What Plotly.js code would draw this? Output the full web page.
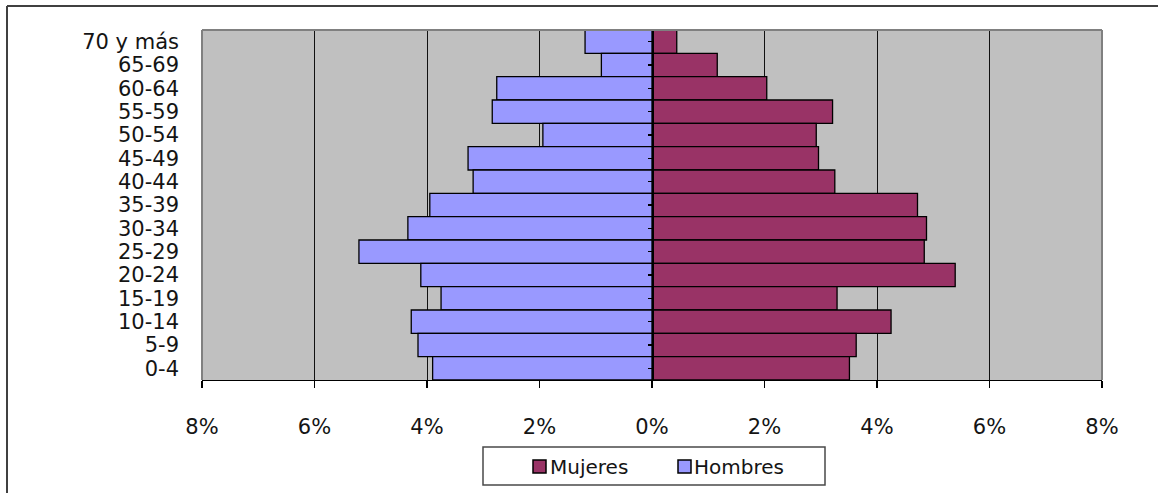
<!DOCTYPE html>
<html>
<head>
<meta charset="utf-8">
<script src="https://cdn.plot.ly/plotly-3.0.1.min.js"></script>
<style>html,body{margin:0;padding:0;background:#fff;}#chart{width:1158px;height:493px;}</style>
</head>
<body>
<div id="chart"></div>
<script>
// Age groups, top to bottom as shown
var ageGroups = ["70 y más","65-69","60-64","55-59","50-54","45-49","40-44","35-39","30-34","25-29","20-24","15-19","10-14","5-9","0-4"];
// Percent of population
var mujeres = [0.44,1.16,2.04,3.21,2.92,2.96,3.25,4.72,4.88,4.84,5.39,3.29,4.25,3.63,3.51];
var hombres = [1.19,0.90,2.76,2.84,1.94,3.27,3.18,3.95,4.34,5.21,4.11,3.75,4.28,4.16,3.90];
var tickValues = [-8,-6,-4,-2,0,2,4,6,8];
var tickLabels = ["8%","6%","4%","2%","0%","2%","4%","6%","8%"];
var seriesNames = ["Mujeres","Hombres"];
var seriesColors = ["#993366","#9999FF"];

var fontFam = "DejaVu Sans, Verdana, sans-serif";
var txtColor = "#141414";

var traces = [
  {type:"bar", orientation:"h", name:seriesNames[0], y:ageGroups, x:mujeres,
   xaxis:"x", yaxis:"y",
   marker:{color:seriesColors[0], line:{color:"#000000", width:1.3}},
   hoverinfo:"skip", showlegend:false},
  {type:"bar", orientation:"h", name:seriesNames[1], y:ageGroups,
   x:hombres.map(function(v){return -v;}),
   xaxis:"x", yaxis:"y2",
   marker:{color:seriesColors[1], line:{color:"#000000", width:1.3}},
   hoverinfo:"skip", showlegend:false}
];

var L = 202, T = 30, R = 56, B = 113, W = 1158, H = 493;
var pw = W - L - R, ph = H - T - B;
function px(x){ return (x - L) / pw; }
function py(y){ return (H - B - y) / ph; }

var shapes = [
  {type:"line", xref:"paper", yref:"paper", x0:0, x1:1, y0:1, y1:1, line:{color:"#808080", width:2}},
  {type:"line", xref:"paper", yref:"paper", x0:1, x1:1, y0:0, y1:1, line:{color:"#808080", width:2}},
  {type:"line", xref:"paper", yref:"paper", x0:0, x1:0, y0:0, y1:1, line:{color:"#808080", width:2}},
  {type:"line", xref:"paper", yref:"paper", x0:px(7), x1:px(1160), y0:py(6), y1:py(6), line:{color:"#404040", width:2}},
  {type:"line", xref:"paper", yref:"paper", x0:px(7), x1:px(7), y0:py(6), y1:py(495), line:{color:"#404040", width:2}},
  // legend box
  {type:"rect", xref:"paper", yref:"paper", x0:px(483), x1:px(825), y0:py(447), y1:py(485),
   fillcolor:"#ffffff", line:{color:"#4a4a4a", width:1.5}},
  // legend keys
  {type:"rect", xref:"paper", yref:"paper", x0:px(533), x1:px(546), y0:py(460), y1:py(473),
   fillcolor:seriesColors[0], line:{color:"#000000", width:1.5}},
  {type:"rect", xref:"paper", yref:"paper", x0:px(678), x1:px(691), y0:py(460), y1:py(473),
   fillcolor:seriesColors[1], line:{color:"#000000", width:1.5}}
];

var annotations = [
  {xref:"paper", yref:"paper", x:px(548), y:py(466.5), xanchor:"left", yanchor:"middle",
   text:seriesNames[0], showarrow:false, font:{family:fontFam, size:20, color:txtColor}},
  {xref:"paper", yref:"paper", x:px(692), y:py(466.5), xanchor:"left", yanchor:"middle",
   text:seriesNames[1], showarrow:false, font:{family:fontFam, size:20, color:txtColor}}
];

var layout = {
  width: W, height: H,
  margin:{l:L, r:R, t:T, b:B, pad:0},
  paper_bgcolor:"#ffffff",
  plot_bgcolor:"#c0c0c0",
  bargap:0,
  barmode:"overlay",
  font:{family:fontFam, size:21, color:txtColor},
  showlegend:false,
  xaxis:{range:[-8,8], tickmode:"array", tickvals:tickValues, ticktext:tickLabels,
         showgrid:true, gridcolor:"#111111", gridwidth:1, zeroline:false,
         showline:true, linecolor:"#000000", linewidth:1.3,
         ticks:"outside", ticklen:7, tickcolor:"#000000", tickwidth:1.3,
         ticklabelstandoff:20,
         tickfont:{family:fontFam, size:21, color:txtColor},
         fixedrange:true},
  yaxis:{type:"category", autorange:"reversed", tickmode:"array", tickvals:ageGroups,
         showgrid:false, zeroline:false,
         showline:false, ticks:"", ticklabelstandoff:22,
         tickfont:{family:fontFam, size:21, color:txtColor}, fixedrange:true},
  yaxis2:{type:"category", overlaying:"y", matches:"y", anchor:"free", position:0.5,
          side:"left", showgrid:false, zeroline:false, showticklabels:false,
          tickmode:"array", tickvals:ageGroups,
          showline:true, linecolor:"#000000", linewidth:1.5,
          ticks:"outside", ticklen:4, tickcolor:"#000000", tickwidth:1.2,
          fixedrange:true},
  shapes:shapes,
  annotations:annotations
};

Plotly.newPlot("chart", traces, layout, {displayModeBar:false, staticPlot:true});
</script>
</body>
</html>
